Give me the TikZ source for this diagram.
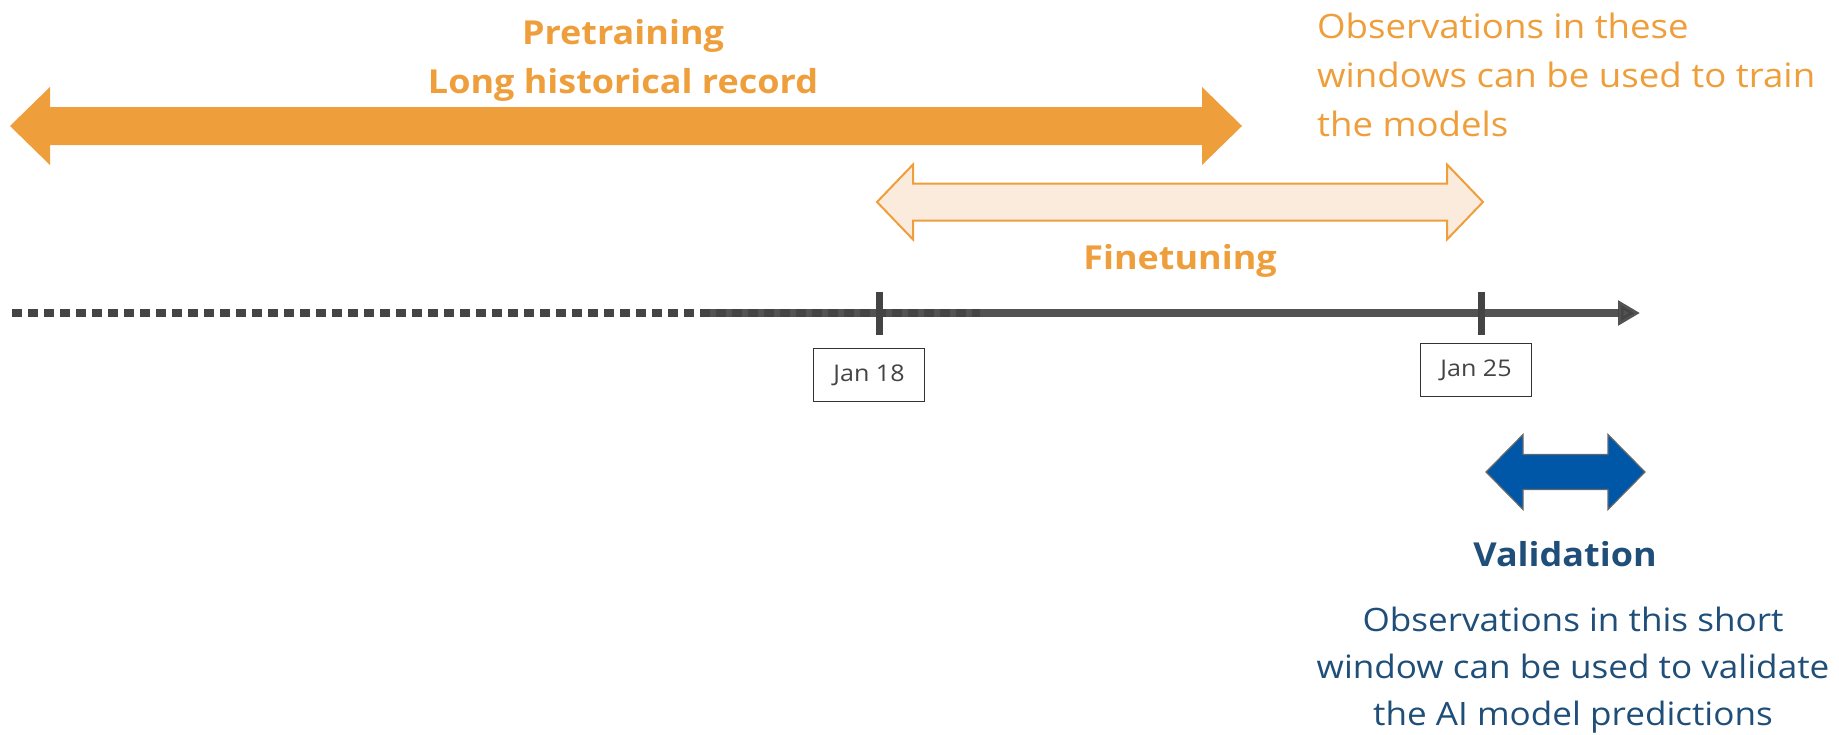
\documentclass[tikz,border=0pt]{standalone}
\usepackage{fontspec}
\setmainfont{Open Sans}[FakeStretch=1.09]
\usetikzlibrary{arrows.meta}

\definecolor{trainorange}{HTML}{EE9E3B}
\definecolor{finefill}{HTML}{FBEBDC}
\definecolor{valblue}{HTML}{0057A8}
\definecolor{valtext}{HTML}{1F4E79}
\definecolor{axisgray}{HTML}{444444}

% block arrow: {left tip}{right tip}{y}{shaft half}{head half}{head length}
\newcommand{\blockarrow}[7][]{%
  \draw[#1] (#2,#4) -- (#2+#7,#4-#6) -- (#2+#7,#4-#5) -- (#3-#7,#4-#5)
    -- (#3-#7,#4-#6) -- (#3,#4) -- (#3-#7,#4+#6) -- (#3-#7,#4+#5)
    -- (#2+#7,#4+#5) -- (#2+#7,#4+#6) -- cycle;}

\begin{document}
\begin{tikzpicture}[
  x=0.5pt, y=-0.5pt,
  datebox/.style={draw=black!80, line width=0.6pt, fill=white, minimum width=55.5pt,
    minimum height=26.5pt, inner sep=0pt, font=\fontsize{11.5}{13}\selectfont, text=axisgray},
  orangetext/.style={text=trainorange, font=\fontsize{16.8}{24.5}\selectfont},
  bluetext/.style={text=valtext, font=\fontsize{16.1}{23.5}\selectfont}
]
  \useasboundingbox (0,0) rectangle (1839,734);

  % the three windows
  \blockarrow[fill=trainorange, draw=none]{10}{1242}{126}{19}{39}{40}
  \blockarrow[fill=finefill, draw=trainorange, line width=1pt]{877}{1483}{202}{18.5}{37.5}{36}
  \blockarrow[fill=valblue, draw=axisgray!80, line width=0.6pt]{1486}{1645}{472}{17.5}{37.5}{37}

  % time axis
  \coordinate (past) at (12,313);
  \coordinate (fade) at (980,313);
  \coordinate (now) at (707,313);
  \coordinate (future) at (1640,313);
  \draw[axisgray, line width=4pt, dash pattern=on 5pt off 3pt] (past) -- (fade);
  \draw[axisgray, line width=4pt, opacity=0.92, -{Triangle[length=11pt, width=12pt]}] (now) -- (future);

  \coordinate (t18) at (879,313);
  \coordinate (t25) at (1481,313);
  \draw[axisgray, line width=3.5pt] ([yshift=10.5pt]t18) -- ([yshift=-11pt]t18);
  \draw[axisgray, line width=3.5pt] ([yshift=10.5pt]t25) -- ([yshift=-11pt]t25);

  \node[datebox] (jan18) at (869,375) {Jan 18};
  \node[datebox] (jan25) at (1476,370) {Jan 25};

  % labels
  \node[orangetext, align=center, font=\fontsize{16.5}{24.5}\selectfont\bfseries] (pretrain) at (623,60)
    {Pretraining\\Long historical record};
  \node[orangetext, font=\fontsize{16.5}{24.5}\selectfont\bfseries] (finetune) at (1180,260.5) {Finetuning};
  \node[orangetext, align=left, anchor=west] (trainnote) at (1310,75)
    {Observations in these\\windows can be used to train\\the models};

  \node[bluetext, font=\fontsize{16.5}{23.5}\selectfont\bfseries] (valid) at (1565,554) {Validation};
  \node[bluetext, align=center] (validnote) at (1573,670.5)
    {Observations in this short\\window can be used to validate\\the AI model predictions};

\end{tikzpicture}
\end{document}
